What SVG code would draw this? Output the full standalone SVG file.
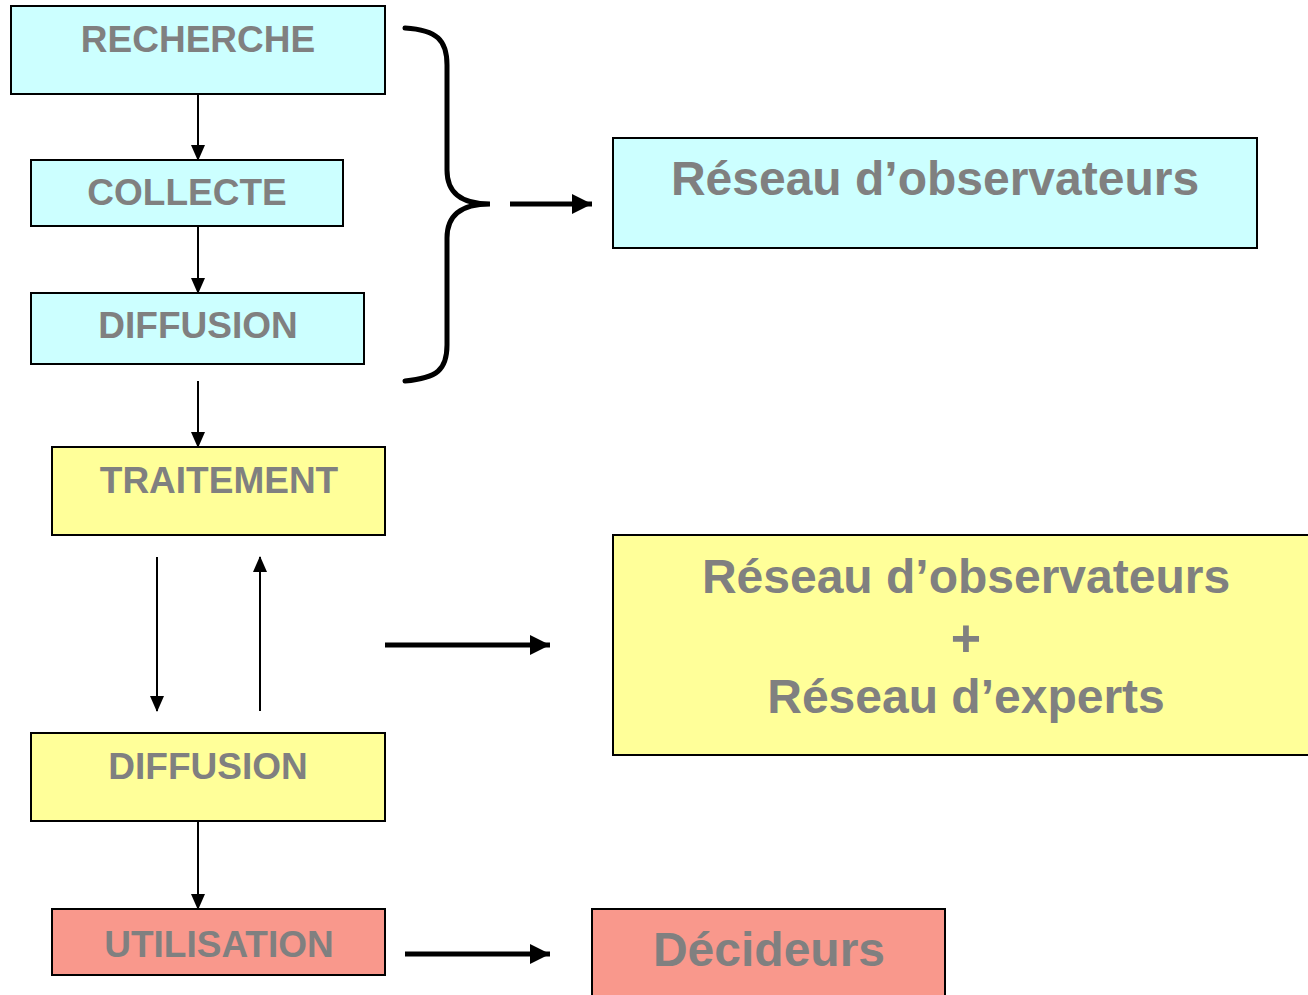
<svg xmlns="http://www.w3.org/2000/svg" width="1308" height="995" viewBox="0 0 1308 995">
<style>
.box{stroke:#000;stroke-width:2}
.cy{fill:#CCFFFF}
.ye{fill:#FFFF99}
.sa{fill:#F9988C}
.t{font-family:"Liberation Sans",Arial,sans-serif;font-weight:bold;fill:#808080;text-anchor:middle}
.s{font-size:37px}
.l{font-size:48px}
.thin{stroke:#000;stroke-width:2;fill:none}
.thick{stroke:#000;stroke-width:5;fill:none}
</style>
<defs>
<marker id="ah" markerUnits="userSpaceOnUse" markerWidth="16" markerHeight="14" refX="15" refY="7" orient="auto">
<path d="M0,0 L16,7 L0,14 Z" fill="#000"/>
</marker>
<marker id="ahb" markerUnits="userSpaceOnUse" markerWidth="20" markerHeight="20" refX="20" refY="10" orient="auto">
<path d="M0,0 L20,10 L0,20 Z" fill="#000"/>
</marker>
</defs>
<rect width="1308" height="995" fill="#fff"/>

<g id="connectors">
<line class="thin" x1="198" y1="95" x2="198" y2="160" marker-end="url(#ah)"/>
<line class="thin" x1="198" y1="227" x2="198" y2="293" marker-end="url(#ah)"/>
<line class="thin" x1="198" y1="381" x2="198" y2="447" marker-end="url(#ah)"/>
<line class="thin" x1="157" y1="557" x2="157" y2="711" marker-end="url(#ah)"/>
<line class="thin" x1="260" y1="711" x2="260" y2="557" marker-end="url(#ah)"/>
<line class="thin" x1="198" y1="822" x2="198" y2="909" marker-end="url(#ah)"/>
<line class="thick" x1="510" y1="204" x2="592" y2="204" marker-end="url(#ahb)"/>
<line class="thick" x1="385" y1="645" x2="550" y2="645" marker-end="url(#ahb)"/>
<line class="thick" x1="405" y1="954" x2="550" y2="954" marker-end="url(#ahb)"/>
<path class="thick" d="M405,28 C437,30 447,40 447,65 L447,170 C447,192 460,204 490,204 C460,204 447,216 447,238 L447,345 C447,370 437,378 405,381" stroke-linecap="round"/>
</g>

<g id="recherche">
<rect class="box cy" x="11" y="6" width="374" height="88"/>
<text class="t s" x="198" y="52">RECHERCHE</text>
</g>
<g id="collecte">
<rect class="box cy" x="31" y="160" width="312" height="66"/>
<text class="t s" x="187" y="205">COLLECTE</text>
</g>
<g id="diffusion1">
<rect class="box cy" x="31" y="293" width="333" height="71"/>
<text class="t s" x="198" y="338">DIFFUSION</text>
</g>
<g id="traitement">
<rect class="box ye" x="52" y="447" width="333" height="88"/>
<text class="t s" x="219" y="493">TRAITEMENT</text>
</g>
<g id="diffusion2">
<rect class="box ye" x="31" y="733" width="354" height="88"/>
<text class="t s" x="208" y="779">DIFFUSION</text>
</g>
<g id="utilisation">
<rect class="box sa" x="52" y="909" width="333" height="66"/>
<text class="t s" x="219" y="957">UTILISATION</text>
</g>
<g id="reseau-obs">
<rect class="box cy" x="613" y="138" width="644" height="110"/>
<text class="t l" x="935" y="195">Réseau d’observateurs</text>
</g>
<g id="reseau-obs-experts">
<rect class="box ye" x="613" y="535" width="700" height="220"/>
<text class="t l" x="966" y="593">Réseau d’observateurs</text>
<text class="t l" x="966" y="656" style="font-size:52px">+</text>
<text class="t l" x="966" y="713">Réseau d’experts</text>
</g>
<g id="decideurs">
<rect class="box sa" x="592" y="909" width="353" height="100"/>
<text class="t l" x="769" y="966">Décideurs</text>
</g>
</svg>
